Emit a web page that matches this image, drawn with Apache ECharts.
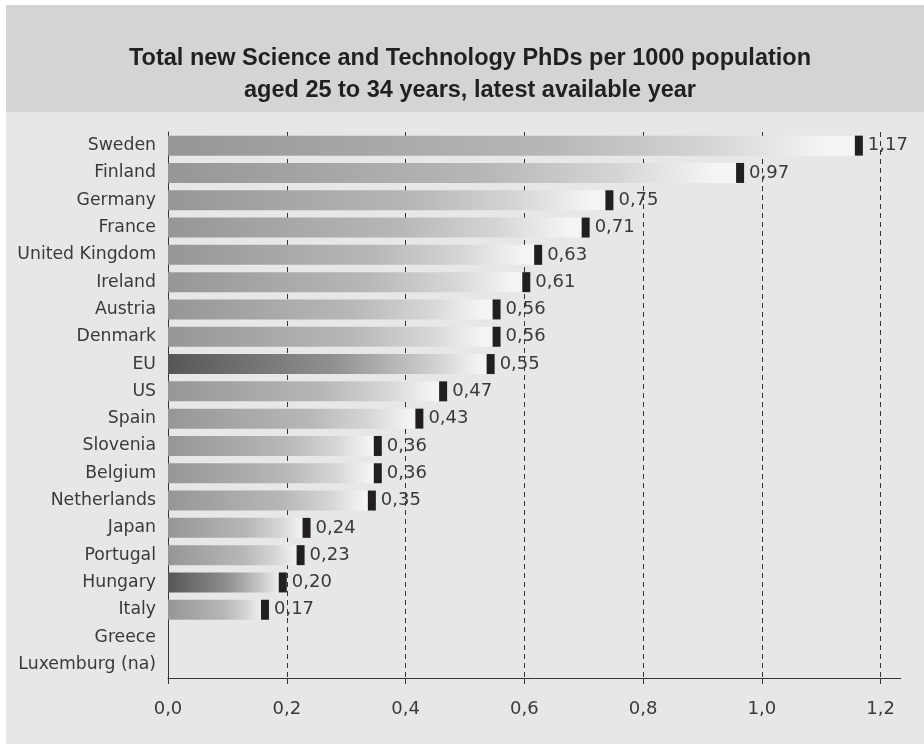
<!DOCTYPE html>
<html>
<head>
<meta charset="utf-8">
<script src="https://cdn.jsdelivr.net/npm/echarts@6/dist/echarts.min.js"></script>
<style>
    html, body { margin: 0; padding: 0; background: #ffffff; }
    .wrap { position: relative; width: 924px; height: 744px; }
    .band-title { position: absolute; left: 6px; top: 5px; width: 918px; height: 107px; background: #d3d4d6; }
    .band-plot { position: absolute; left: 6px; top: 112px; width: 918px; height: 632px; background: #e6e7e8; }
    #chart { position: absolute; left: 0; top: 0; width: 924px; height: 744px; }
</style>
</head>
<body>
<div class="wrap">
    <div class="band-title"></div>
    <div class="band-plot"></div>
    <div id="chart"></div>
</div>
<script>
// data
const countries = ['Sweden', 'Finland', 'Germany', 'France', 'United Kingdom', 'Ireland', 'Austria',
    'Denmark', 'EU', 'US', 'Spain', 'Slovenia', 'Belgium', 'Netherlands', 'Japan', 'Portugal',
    'Hungary', 'Italy', 'Greece', 'Luxemburg (na)'];
const phds = [1.17, 0.97, 0.75, 0.71, 0.63, 0.61, 0.56, 0.56, 0.55, 0.47, 0.43, 0.36, 0.36, 0.35,
    0.24, 0.23, 0.20, 0.17, null, null];
const darkBars = ['EU', 'Hungary'];
const xTicks = [0, 0.2, 0.4, 0.6, 0.8, 1.0, 1.2];

const fmt = v => v.toFixed(1).replace('.', ',');
const fmt2 = v => v.toFixed(2).replace('.', ',');

function grad(dark) {
    // 每根柱子自己的横向渐变
    const stops = dark
        ? [['#555658', 0], ['#8e8f91', 0.5], ['#cbcccd', 0.8], ['#f3f3f3', 0.95], ['#f3f3f3', 1]]
        : [['#959698', 0], ['#b6b7b9', 0.55], ['#d4d5d7', 0.78], ['#f5f5f5', 0.95], ['#f5f5f5', 1]];
    return new echarts.graphic.LinearGradient(0, 0, 1, 0,
        stops.map(s => ({ offset: s[1], color: s[0] })));
}

const barData = phds.map((v, i) => ({
    value: v == null ? '-' : v,
    itemStyle: { color: grad(darkBars.indexOf(countries[i]) >= 0) }
}));
const markData = phds.map((v, i) => v == null ? null : [v, countries[i]]).filter(d => d);

const textFont = 'DejaVu Sans';
let chart = echarts.init(document.getElementById('chart'));

let option = {
    animation: false,
    title: {
        text: 'Total new Science and Technology PhDs per 1000 population\naged 25 to 34 years, latest available year',
        left: 465,
        top: 38,
        textAlign: 'center',
        textStyle: {
            fontFamily: 'Liberation Sans',
            fontWeight: 'bold',
            fontSize: 23.5,
            lineHeight: 32,
            color: '#231f20'
        }
    },
    grid: {
        left: 168,
        right: 23.3,
        top: 132,
        bottom: 66
    },
    xAxis: {
        type: 'value',
        min: 0,
        max: 1.2337,
        axisLine: { show: true, lineStyle: { color: '#333', width: 1 } },
        axisTick: {
            show: true,
            length: 6,
            customValues: xTicks,
            lineStyle: { color: '#333' }
        },
        axisLabel: {
            customValues: xTicks,
            formatter: fmt,
            margin: 22,
            fontFamily: textFont,
            fontSize: 18,
            color: '#3a3a3a'
        },
        splitLine: {
            show: true,
            lineStyle: { color: '#333', type: [5, 4], width: 1 }
        }
    },
    yAxis: {
        type: 'category',
        data: countries,
        inverse: true,
        axisLine: { show: true, lineStyle: { color: '#333', width: 1 } },
        axisTick: { show: false },
        axisLabel: {
            margin: 12,
            fontFamily: textFont,
            fontSize: 17.3,
            color: '#3a3a3a'
        }
    },
    series: [
        {
            name: 'PhDs',
            type: 'bar',
            barWidth: 20,
            data: barData,
            z: 3
        },
        {
            name: 'marker',
            type: 'scatter',
            symbol: 'rect',
            symbolSize: [8, 20],
            symbolOffset: [-4, 0],
            itemStyle: { color: '#231f20', opacity: 1 },
            data: markData,
            z: 4,
            label: {
                show: true,
                position: 'right',
                distance: 5,
                formatter: p => fmt2(p.value[0]),
                fontFamily: textFont,
                fontSize: 18,
                color: '#3a3a3a'
            }
        }
    ]
};

chart.setOption(option);
</script>
</body>
</html>
